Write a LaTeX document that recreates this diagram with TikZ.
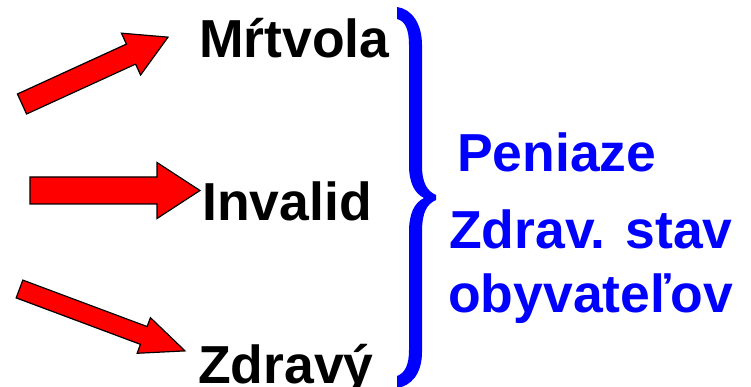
\documentclass[tikz,border=0pt]{standalone}
\usepackage{fontspec}
\setmainfont{Liberation Sans}
\definecolor{pureblue}{RGB}{0,0,255}
\definecolor{purered}{RGB}{255,0,0}
\tikzset{
  lbl/.style={font=\fontsize{53.5}{60}\selectfont\bfseries, inner sep=0pt, anchor=base west},
  bluelbl/.style={lbl, text=pureblue},
  redarr/.style={fill=purered, draw=black, line width=1.2pt, line join=miter},
}
% #1 shift, #2 angle, #3 length, #4 head length, #5 shaft half, #6 head half
\newcommand\myblockarrow[6]{%
  \begin{scope}[shift={#1}, rotate=#2]
    \draw[redarr] (0,#5) -- ({#3-#4},#5) -- ({#3-#4},#6) -- (#3,0) -- ({#3-#4},-#6) -- ({#3-#4},-#5) -- (0,-#5) -- cycle;
  \end{scope}}
\begin{document}
\begin{tikzpicture}[x=1pt,y=-1pt]
\useasboundingbox (0,0) rectangle (751,387);
% arrows
\myblockarrow{(22,104)}{24.6}{160.6}{40.7}{11}{23}
\myblockarrow{(30,190.5)}{0}{170}{43}{13.5}{28}
\myblockarrow{(19.5,289)}{-20.5}{176.7}{44}{9.5}{19}
% labels
\node[lbl] (mrtvola) at (199,58) {Mŕtvola};
\node[lbl] (invalid) at (202,220) {Invalid};
\node[lbl] (zdravy) at (198,383) {Zdravý};
\node[bluelbl] (peniaze) at (457,172) {Peniaze};
\node[bluelbl] (zdrav) at (449,248) {Zdrav. stav};
\node[bluelbl] (obyv) at (448,312) {obyvateľov};
% brace
\fill[pureblue] (397,7) .. controls (412,9) and (422,24) .. (422,45) -- (422,165)
  .. controls (422,183) and (427,191) .. (436,195) -- (436,200)
  .. controls (427,204) and (422,212) .. (422,232) -- (422,352)
  .. controls (422,374) and (411,386) .. (397,388) -- (397,376)
  .. controls (405,373) and (409,365) .. (409,350) -- (409,232)
  .. controls (409,214) and (414,203) .. (424,198)
  .. controls (414,193) and (409,182) .. (409,165) -- (409,45)
  .. controls (409,29) and (405,21) .. (397,19) -- cycle;
\end{tikzpicture}
\end{document}
